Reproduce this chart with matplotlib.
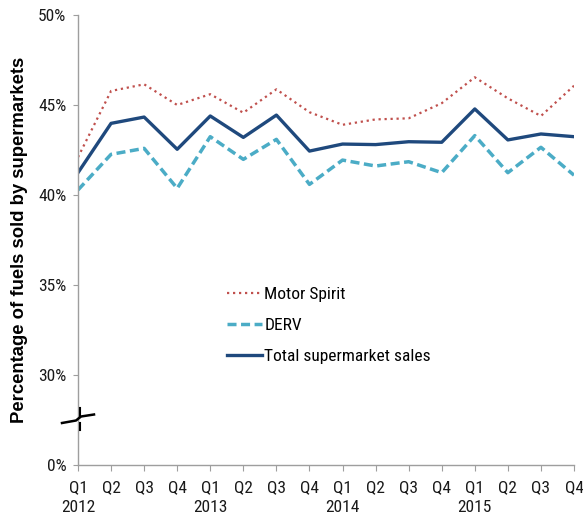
import numpy as np
import matplotlib
matplotlib.use('Agg')
import matplotlib.pyplot as plt
from matplotlib import font_manager

quarters = ['Q1', 'Q2', 'Q3', 'Q4'] * 4
years = ['2012', '2013', '2014', '2015']
motor_spirit = [42.1, 45.78, 46.15, 45.0, 45.6, 44.57, 45.87, 44.6,
                43.9, 44.2, 44.26, 45.1, 46.54, 45.37, 44.39, 46.07]
derv = [40.28, 42.26, 42.59, 40.37, 43.24, 41.98, 43.09, 40.59,
        41.94, 41.61, 41.85, 41.24, 43.3, 41.24, 42.65, 41.1]
total = [41.24, 43.98, 44.33, 42.54, 44.39, 43.2, 44.44, 42.44,
         42.83, 42.8, 42.96, 42.93, 44.78, 43.06, 43.39, 43.24]

y_ticks = [30, 35, 40, 45, 50]
# broken axis: the bottom of the axis stands for 0%
axis_floor = 25

names = {f.name for f in font_manager.fontManager.ttflist}
narrow = 'Liberation Sans'
for cand in ['Liberation Sans Narrow', 'Arial Narrow', 'Roboto Condensed', 'Archivo Narrow']:
    if cand in names:
        narrow = cand
        break
plt.rcParams['font.family'] = [narrow, 'DejaVu Sans']

fig = plt.figure(figsize=(5.83, 5.17), dpi=100)
ax = fig.add_axes([78 / 583, 52 / 517, 496 / 583, 450 / 517])

x = np.arange(len(quarters))
ax.plot(x, motor_spirit, color='#C0504D', lw=1.6, linestyle=(0, (1, 1.7)), label='Motor Spirit')
ax.plot(x, derv, color='#4BACC6', lw=2.5, linestyle=(0, (2.6, 1.3)), label='DERV')
ax.plot(x, total, color='#1F497D', lw=2.4, label='Total supermarket sales')

ax.set_xlim(0, len(quarters) - 1)
ax.set_ylim(axis_floor, 50)
ax.set_yticks([axis_floor] + y_ticks)
ax.set_yticklabels(['0%'] + ['%d%%' % v for v in y_ticks])

xlabels = []
for i, q in enumerate(quarters):
    xlabels.append(q + '\n' + years[i // 4] if q == 'Q1' else q + '\n ')
ax.set_xticks(x)
ax.set_xticklabels(xlabels, linespacing=1.38)

for s in ['top', 'right']:
    ax.spines[s].set_visible(False)
for s in ['left', 'bottom']:
    ax.spines[s].set_color('#9E9E9E')
    ax.spines[s].set_linewidth(1.0)
ax.tick_params(axis='both', colors='#9E9E9E', labelcolor='#1A1A1A', labelsize=12.5)
ax.tick_params(axis='y', length=3.5, pad=5)
ax.tick_params(axis='x', length=4, pad=7)

ax.set_ylabel('Percentage of fuels sold by supermarkets', family='Liberation Sans',
              fontweight='bold', fontsize=13.3)
ax.yaxis.set_label_coords(-0.1, 0.5)

# axis break mark
px = np.array([62, 76, 81, 94])
py = np.array([423, 420.5, 416.5, 414.5])
ax.plot((px - 78) / 496, (465 - py) / 450, color='black', lw=1.8,
        transform=ax.transAxes, clip_on=False, zorder=5)
for y0, y1 in [(408, 417), (423, 430)]:
    ax.plot([1.5 / 496, 1.5 / 496], [(465 - y0) / 450, (465 - y1) / 450], color='black',
            lw=1.5, transform=ax.transAxes, clip_on=False, zorder=5)

leg = ax.legend(loc='upper left', bbox_to_anchor=(227 / 583, 1 - 287 / 517),
                bbox_transform=fig.transFigure, frameon=False, fontsize=12.5,
                handlelength=2.0, handletextpad=0.15, labelspacing=0.92,
                borderpad=0, borderaxespad=0)

fig.savefig('out.png', dpi=100)
